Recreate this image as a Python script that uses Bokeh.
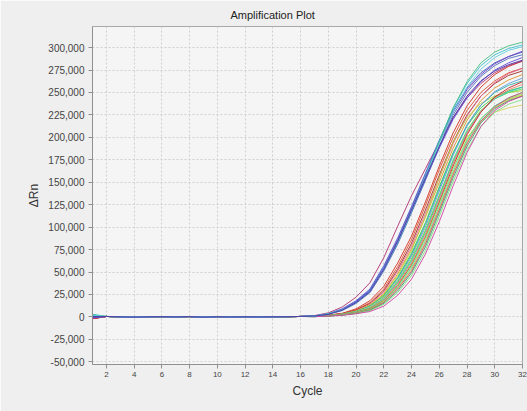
from bokeh.plotting import figure
from bokeh.models import Range1d, NumeralTickFormatter, FixedTicker, Title
from bokeh.embed import file_html
from bokeh.resources import INLINE

cycles = list(range(1, 33))
x_ticks = list(range(2, 33, 2))
y_ticks = list(range(-50000, 300001, 25000))

# shared baseline, cycles 2..16 (thousands of dRn)
base = [0.5, 0.2, -0.3, 0.2, 0.3, 0.1, 0.4, -0.3, 0.3, 0.0, 0.2, 0.0, 0.2, 0.3, 0.5]

# early-rising group: colour, value at cycle 1, cycles 17..32 (thousands)
early_colors = ["#b03070", "#4060d0", "#7040c0", "#40c0d0", "#40c080",
                "#6050e0", "#5070c0", "#60d0e0", "#5030a0"]
early_start = [-1.0, 0.5, -0.5, 3.0, 2.5, 0.0, -1.0, 2.0, 0.0]
early_tails = [
    [1.5, 4.5, 11, 22, 38, 66, 101, 135, 165, 195, 222, 244, 260, 272, 280, 285],
    [1, 3.5, 9, 18, 31, 57, 88, 123, 160, 197, 230, 255, 272, 283, 290, 295],
    [1, 3.5, 8, 17, 30, 55, 86, 121, 158, 195, 228, 253, 270, 282, 290, 296],
    [1, 3.5, 8, 16, 29, 54, 84, 119, 157, 196, 232, 260, 280, 292, 299, 303],
    [1, 3.5, 8, 16, 28, 53, 82, 117, 155, 195, 233, 262, 283, 295, 302, 306],
    [1, 3, 8, 17, 29, 54, 84, 118, 153, 188, 220, 244, 262, 275, 283, 289],
    [1, 3, 7, 15, 27, 51, 81, 116, 152, 190, 225, 250, 268, 280, 288, 292],
    [1, 3.5, 7.5, 16, 28, 53, 83, 118, 156, 193, 228, 256, 276, 289, 297, 301],
    [1, 3, 7.5, 16, 28, 53, 84, 119, 155, 190, 222, 246, 263, 274, 281, 286],
]

# later-rising group
late_colors = ["#d03020", "#e05030", "#a03020", "#e06090", "#e09030",
               "#c0d040", "#40d040", "#30b0a0", "#60a0e0", "#d8d060",
               "#50e050", "#30c0c0", "#f08070", "#c02830", "#90e040",
               "#50d0c0", "#e0c040", "#d05070", "#40a070", "#80e080", "#d040a0"]
late_start = [-2.0, -1.5, -2.0, -1.0, -0.5, 0.0, -1.0, 1.0, 0.5, -0.5,
              0.0, 1.5, -1.0, -2.0, 0.0, 1.0, -0.5, -1.0, 0.5, 0.0, -1.5]
late_tails = [
    [0.8, 2, 4, 9, 18, 34, 60, 90, 128, 168, 205, 235, 256, 270, 279, 285],
    [0.7, 1.8, 3.8, 8, 16, 31, 56, 86, 124, 164, 200, 230, 250, 263, 272, 277],
    [0.7, 1.8, 3.5, 7.5, 15, 29, 53, 82, 119, 158, 195, 225, 246, 260, 269, 274],
    [0.6, 1.6, 3.3, 7, 14, 28, 51, 79, 115, 155, 193, 224, 246, 261, 271, 277],
    [0.6, 1.5, 3.2, 6.5, 13, 26, 48, 76, 111, 150, 188, 219, 241, 255, 264, 270],
    [0.6, 1.5, 3, 6.5, 13, 25, 46, 74, 112, 155, 195, 222, 238, 246, 250, 252],
    [0.5, 1.4, 3, 6, 12, 24, 44, 71, 105, 145, 183, 213, 233, 245, 252, 256],
    [0.5, 1.4, 3, 6, 12, 23, 43, 69, 103, 143, 182, 214, 236, 250, 258, 263],
    [0.5, 1.3, 2.8, 5.5, 11, 22, 41, 67, 100, 140, 180, 213, 236, 251, 260, 266],
    [0.5, 1.3, 2.8, 5.5, 11, 22, 40, 65, 97, 136, 172, 200, 218, 228, 233, 236],
    [0.5, 1.3, 2.7, 5.2, 10, 21, 39, 64, 96, 135, 175, 208, 230, 243, 250, 254],
    [0.5, 1.2, 2.6, 5, 10, 20, 38, 62, 94, 133, 173, 206, 229, 243, 251, 256],
    [0.4, 1.2, 2.5, 5, 9.5, 19, 37, 60, 92, 131, 171, 205, 229, 244, 253, 259],
    [0.4, 1.2, 2.5, 4.8, 9, 18, 35, 58, 89, 128, 168, 203, 228, 245, 255, 262],
    [0.4, 1.1, 2.4, 4.7, 9, 18, 34, 57, 88, 126, 165, 198, 221, 235, 243, 248],
    [0.4, 1.1, 2.3, 4.5, 8.5, 17, 33, 55, 85, 123, 162, 196, 220, 235, 244, 250],
    [0.4, 1.1, 2.3, 4.4, 8.3, 16.5, 32, 53, 83, 121, 160, 194, 218, 233, 242, 247],
    [0.4, 1, 2.2, 4.2, 8, 16, 31, 51, 81, 119, 158, 193, 218, 234, 244, 250],
    [0.3, 1, 2.1, 4, 7.5, 15, 29, 49, 78, 116, 155, 190, 216, 232, 241, 246],
    [0.3, 1, 2, 3.8, 7, 14, 27, 46, 74, 112, 151, 186, 212, 228, 237, 242],
    [0.3, 0.9, 1.8, 3.5, 6, 12, 24, 42, 70, 106, 146, 183, 212, 230, 240, 246],
]

FONT = "Liberation Sans"

p = figure(width=527, height=411, output_backend="svg", toolbar_location=None,
           x_range=Range1d(1, 32), y_range=Range1d(-53000, 323500),
           min_border_left=92, min_border_right=5, min_border_top=25,
           min_border_bottom=47)
p.background_fill_color = "#f5f5f5"
p.border_fill_color = "#efefef"
p.outline_line_color = "#a8a8a8"
p.outline_line_width = 1

t = Title(text="Amplification Plot", align="left", offset=138,
          text_font=FONT, text_font_size="11px", text_font_style="normal",
          text_color="#222222", standoff=12)
p.add_layout(t, "above")

for col, s, tail in zip(late_colors, late_start, late_tails):
    vals = [s] + base + tail
    p.line(cycles, [v * 1000 for v in vals], line_color=col, line_width=1.0,
           line_alpha=0.9)
for col, s, tail in zip(early_colors, early_start, early_tails):
    vals = [s] + base + tail
    p.line(cycles, [v * 1000 for v in vals], line_color=col, line_width=1.0,
           line_alpha=0.9)

p.xaxis.ticker = FixedTicker(ticks=x_ticks)
p.yaxis.ticker = FixedTicker(ticks=y_ticks)
p.yaxis.formatter = NumeralTickFormatter(format="0,0")
p.xaxis.axis_label = "Cycle"
p.yaxis.axis_label = "ΔRn"
for ax in (p.xaxis, p.yaxis):
    ax.axis_label_text_font = FONT
    ax.axis_label_text_font_size = "12px"
    ax.axis_label_text_font_style = "normal"
    ax.axis_label_text_color = "#333333"
    ax.major_label_text_font = FONT
    ax.major_label_text_color = "#444444"
    ax.axis_line_color = "#909090"
    ax.major_tick_line_color = "#909090"
    ax.minor_tick_line_color = None
    ax.major_tick_out = 4
    ax.major_tick_in = 0
p.xaxis.major_label_text_font_size = "8px"
p.yaxis.major_label_text_font_size = "10px"
p.xaxis.major_label_standoff = 3
p.yaxis.major_label_standoff = 4
p.xaxis.axis_label_standoff = 4
p.yaxis.axis_label_standoff = 4

p.grid.grid_line_color = "#cfcfcf"
p.grid.grid_line_dash = "2 2"
p.grid.grid_line_width = 1

open("out.html", "w").write(file_html(p, INLINE))
